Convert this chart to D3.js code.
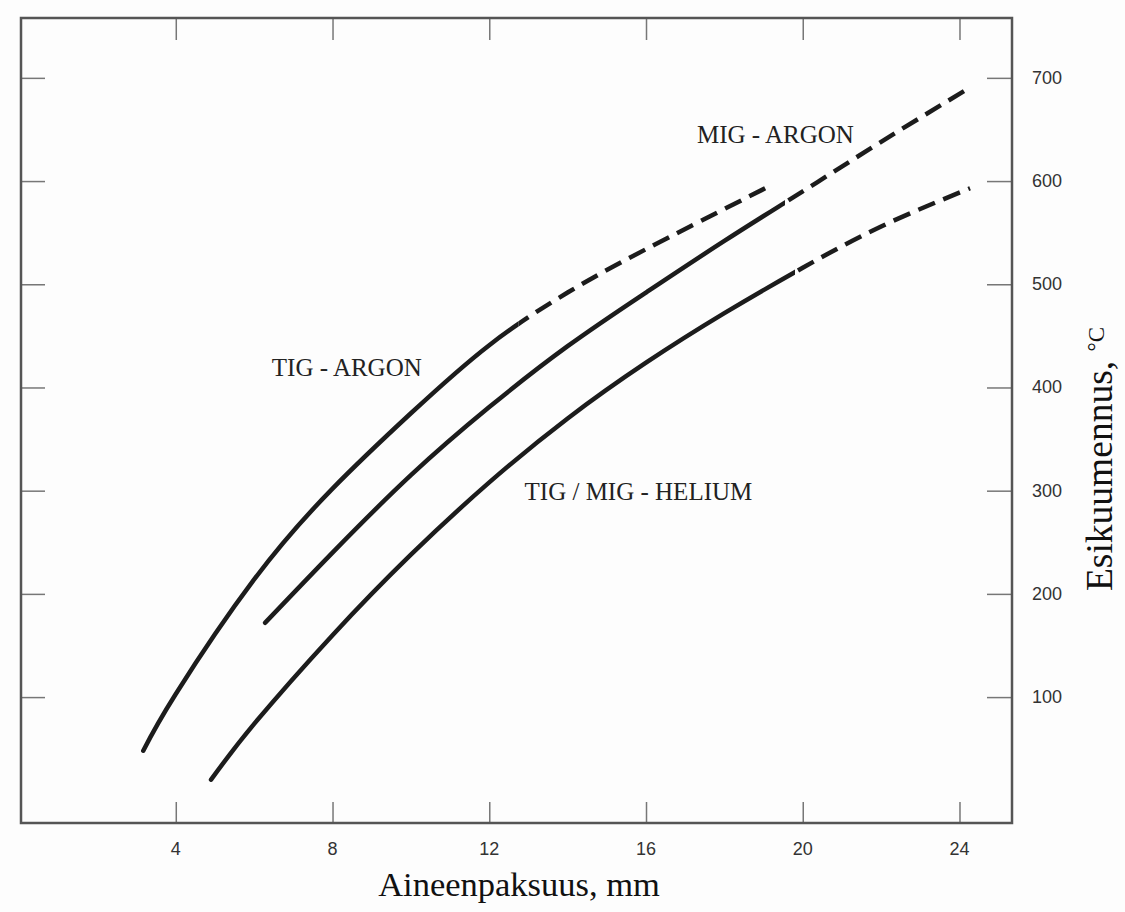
<!DOCTYPE html>
<meta charset="utf-8" />
<script src="https://d3js.org/d3.v7.min.js"></script>
<style>
  body { margin: 0; background: #fdfdfd; }
</style>
<div id="chart"></div>
<script>
  // thickness (mm) vs preheat (°C)
  const tigArgon = [[3.17, 48], [4.0, 103], [6.0, 214], [8.0, 302], [10.0, 375], [12.0, 441], [14.0, 492], [16.0, 534], [19.04, 593]];
  const migArgon = [[6.28, 172], [8.0, 240], [10.0, 315], [12.0, 381], [14.0, 440], [16.0, 492], [18.0, 542], [20.0, 590], [22.0, 638], [24.15, 688]];
  const helium = [[4.9, 20], [6.0, 74], [8.0, 160], [10.0, 238], [12.0, 308], [14.0, 370], [16.0, 424], [18.0, 472], [20.0, 516], [22.0, 556], [24.27, 593]];
  const seriesData = [tigArgon, migArgon, helium];
  const dashFrom = [12.75, 19.55, 19.8];   // x where the line turns dashed

  const xTicks = [4, 8, 12, 16, 20, 24];
  const yTicks = [100, 200, 300, 400, 500, 600, 700];
  const notes = [
    { text: 'TIG - ARGON', x: 6.45, y: 411 },
    { text: 'MIG - ARGON', x: 17.3, y: 637 },
    { text: 'TIG / MIG - HELIUM', x: 12.9, y: 291 }
  ];

  const W = 1125, H = 912;
  const svg = d3.select('#chart').append('svg')
    .attr('width', W).attr('height', H);

  const x = d3.scaleLinear().domain([0.05, 25.34]).range([21, 1012]);
  const y = d3.scaleLinear().domain([-22, 758]).range([823, 18]);

  // ticks, drawn inward from all four sides
  const g = svg.append('g');
  g.append('g').attr('transform', `translate(0, ${y(-22)})`)
    .call(d3.axisBottom(x).tickValues(xTicks).tickSize(-21).tickFormat(''));
  g.append('g').attr('transform', `translate(0, ${y(758)})`)
    .call(d3.axisTop(x).tickValues(xTicks).tickSize(-22).tickFormat(''));
  g.append('g').attr('transform', `translate(${x(0.05)}, 0)`)
    .call(d3.axisLeft(y).tickValues(yTicks).tickSize(-24).tickFormat(''));
  g.append('g').attr('transform', `translate(${x(25.34)}, 0)`)
    .call(d3.axisRight(y).tickValues(yTicks).tickSize(-25).tickFormat(''));
  g.selectAll('.domain').remove();
  g.selectAll('.tick line').attr('stroke', '#777').attr('stroke-width', 1.5);

  // frame
  svg.append('rect')
    .attr('x', x(0.05)).attr('y', y(758))
    .attr('width', x(25.34) - x(0.05)).attr('height', y(-22) - y(758))
    .attr('fill', 'none').attr('stroke', '#555').attr('stroke-width', 2.5);

  // tick labels
  svg.append('g').selectAll('text').data(xTicks).join('text')
    .attr('x', d => x(d)).attr('y', 855)
    .attr('text-anchor', 'middle')
    .style('font-family', '"Liberation Sans", Arial, sans-serif')
    .style('font-size', '18px').style('fill', '#333')
    .text(d => d);
  svg.append('g').selectAll('text').data(yTicks).join('text')
    .attr('x', 1032).attr('y', d => y(d) + 6)
    .style('font-family', '"Liberation Sans", Arial, sans-serif')
    .style('font-size', '18px').style('fill', '#333')
    .text(d => d);

  // curves: one smooth path per series, clipped into a solid and a dashed part
  const line = d3.line().x(d => x(d[0])).y(d => y(d[1])).curve(d3.curveNatural);
  const defs = svg.append('defs');
  seriesData.forEach((pts, i) => {
    const cut = x(dashFrom[i]);
    defs.append('clipPath').attr('id', 'solid' + i)
      .append('rect').attr('x', 0).attr('y', 0).attr('width', cut).attr('height', H);
    defs.append('clipPath').attr('id', 'dash' + i)
      .append('rect').attr('x', cut).attr('y', 0).attr('width', W - cut).attr('height', H);

    svg.append('path').attr('d', line(pts))
      .attr('clip-path', `url(#solid${i})`)
      .attr('fill', 'none').attr('stroke', '#1c1c1c')
      .attr('stroke-width', 4.5).attr('stroke-linecap', 'round');

    svg.append('path').attr('d', line(pts))
      .attr('clip-path', `url(#dash${i})`)
      .attr('fill', 'none').attr('stroke', '#1c1c1c')
      .attr('stroke-width', 4.5).attr('stroke-linecap', 'butt')
      .attr('stroke-dasharray', '18 9');
  });

  // curve labels
  svg.append('g').selectAll('text').data(notes).join('text')
    .attr('x', d => x(d.x)).attr('y', d => y(d.y))
    .style('font-family', '"Liberation Serif", "Times New Roman", serif')
    .style('font-size', '25px').style('fill', '#222')
    .text(d => d.text);

  // axis titles
  svg.append('text')
    .attr('x', 519).attr('y', 896)
    .attr('text-anchor', 'middle')
    .style('font-family', '"Liberation Serif", "Times New Roman", serif')
    .style('font-size', '34.5px').style('fill', '#111')
    .text('Aineenpaksuus, mm');

  const yt = svg.append('text')
    .attr('transform', 'translate(1112, 459) rotate(-90)')
    .attr('text-anchor', 'middle')
    .style('font-family', '"Liberation Serif", "Times New Roman", serif')
    .style('font-size', '37.5px').style('fill', '#111');
  yt.append('tspan').text('Esikuumennus, ');
  yt.append('tspan').style('font-size', '23px').attr('dy', -8).text('°C');
</script>
